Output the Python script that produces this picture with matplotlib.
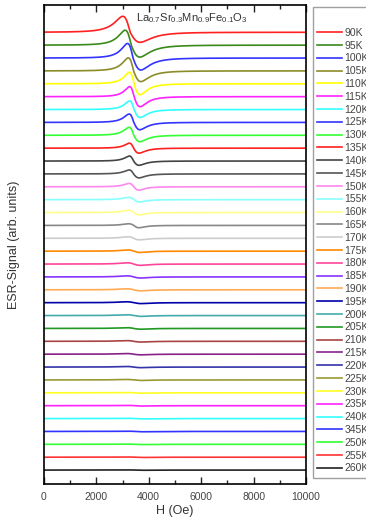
import numpy as np
import matplotlib
matplotlib.use("Agg")
import matplotlib.pyplot as plt
from matplotlib.ticker import MultipleLocator

plt.rcParams['font.family'] = ['Liberation Sans', 'DejaVu Sans']
plt.rcParams['mathtext.fontset'] = 'custom'
plt.rcParams['mathtext.rm'] = 'Liberation Sans'
plt.rcParams['mathtext.it'] = 'Liberation Sans'

# temperature labels (as printed in the legend)
labels = ['90K', '95K', '100K', '105K', '110K', '115K', '120K', '125K', '130K',
          '135K', '140K', '145K', '150K', '155K', '160K', '165K', '170K', '175K',
          '180K', '185K', '190K', '195K', '200K', '205K', '210K', '215K', '220K',
          '225K', '230K', '235K', '240K', '345K', '250K', '255K', '260K']

colors = ['#ff2020', '#3a8a1a', '#3333ff', '#8b8b2a', '#ffff00', '#ff22ff', '#33ffff',
          '#3333ff', '#33ff33', '#ff2020', '#444444', '#555555', '#ff88ee', '#88ffff',
          '#ffff88', '#888888', '#cccccc', '#ff8800', '#ff4499', '#8833ff', '#ffaa55',
          '#0000aa', '#44aaaa', '#229922', '#aa4444', '#882288', '#3333aa', '#999933',
          '#ffff22', '#ff22ff', '#33ffff', '#3333ff', '#33ff33', '#ff3333', '#222222']

# zero-crossing (resonance) field, Oe
h_res = [3290, 3330, 3400, 3420, 3440, 3440, 3440, 3430, 3430, 3420, 3420, 3420,
         3430, 3440, 3430, 3430, 3430, 3430, 3430, 3430, 3430, 3430, 3430, 3430,
         3430, 3430, 3430, 3430, 3430, 3430, 3430, 3430, 3430, 3430, 3430]

# distance from resonance to the low-field maximum / high-field minimum, Oe
half_low = [280, 230, 210, 200, 180, 170, 170, 180, 180, 160, 160, 170, 180, 200,
            200, 200, 220, 230, 250, 260, 270, 280, 280, 280, 280, 280, 280, 280,
            280, 280, 280, 280, 280, 280, 280]
half_high = [380, 330, 300, 280, 230, 230, 230, 230, 230, 210, 210, 210, 190, 200,
             200, 200, 220, 230, 250, 260, 270, 280, 280, 280, 280, 280, 280, 280,
             280, 280, 280, 280, 280, 280, 280]

# height of the maximum and depth of the minimum (arb. units)
amp_up = [1.24, 1.16, 1.13, 1.01, 0.90, 0.78, 0.67, 0.65, 0.62, 0.39, 0.39, 0.31,
          0.26, 0.18, 0.18, 0.13, 0.12, 0.10, 0.10, 0.085, 0.08, 0.07, 0.065, 0.06,
          0.055, 0.05, 0.045, 0.04, 0.03, 0.03, 0.025, 0.025, 0.02, 0.02, 0.015]
amp_down = [0.78, 0.93, 0.93, 0.83, 0.85, 0.78, 0.62, 0.57, 0.50, 0.39, 0.33, 0.31,
            0.26, 0.18, 0.18, 0.18, 0.12, 0.10, 0.10, 0.085, 0.08, 0.07, 0.065, 0.06,
            0.055, 0.05, 0.045, 0.04, 0.03, 0.03, 0.025, 0.025, 0.02, 0.02, 0.015]

H = np.linspace(0, 10000, 2001)


def lor_deriv(x, half):
    # Lorentzian derivative scaled to a unit extremum at x = -half
    dh = half * np.sqrt(3)
    f = -x / (x ** 2 + dh ** 2) ** 2
    f0 = half / (half ** 2 + dh ** 2) ** 2
    return f / f0


def esr_line(i):
    x = H - h_res[i]
    low = amp_up[i] * lor_deriv(x, half_low[i])
    high = amp_down[i] * lor_deriv(x, half_high[i])
    return np.where(x < 0, low, high)


fig = plt.figure(figsize=(3.66, 5.23), dpi=100)
ax = fig.add_axes([0.120, 0.0746, 0.716, 0.9154])

n = len(labels)
for i in range(n):
    off = n - 1 - i
    ax.plot(H, off + esr_line(i), color=colors[i], lw=1.2, label=labels[i])

ax.set_xlim(0, 10000)
ax.set_ylim(-1.08, 36.1)
ax.set_yticks([])
ax.xaxis.set_major_locator(MultipleLocator(2000))
ax.xaxis.set_minor_locator(MultipleLocator(1000))
ax.tick_params(axis='x', which='both', direction='in', top=True, labelsize=7.5,
               colors='#222222', labelcolor='#444444', pad=6)
ax.tick_params(axis='x', which='major', length=5, width=1)
ax.tick_params(axis='x', which='minor', length=3, width=1)
for s in ax.spines.values():
    s.set_linewidth(1.2)

ax.set_xlabel('H (Oe)', fontsize=9, color='#333333', labelpad=2)
ax.set_ylabel('ESR-Signal (arb. units)', fontsize=9, color='#333333', labelpad=17)
ax.text(0.565, 0.988, r'La$_{0.7}$Sr$_{0.3}$Mn$_{0.9}$Fe$_{0.1}$O$_{3}$',
        transform=ax.transAxes, ha='center', va='top', fontsize=8, color='#333333')

leg = fig.legend(loc='upper left', bbox_to_anchor=(0.855, 0.987), title=' ',
                 fontsize=7.5, frameon=True, fancybox=False, edgecolor='#888888',
                 handlelength=2.4, handletextpad=0.2, labelspacing=0.27,
                 borderpad=0.4, borderaxespad=0)
for t in leg.get_texts():
    t.set_color('#444444')

fig.savefig('out.png', dpi=100)
